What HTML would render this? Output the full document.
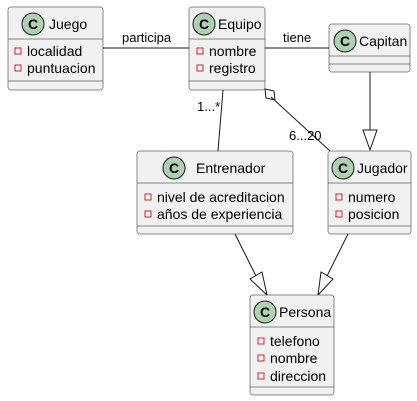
<!DOCTYPE html>
<html><head><meta charset="utf-8"><style>
html,body{margin:0;padding:0;background:#fff;}
svg{display:block;}
text{font-family:"Liberation Sans",sans-serif;fill:#000;}
.t{font-size:14px;}
.a{font-size:14px;}
.l{font-size:13px;}
.box{fill:#F1F1F1;stroke:#181818;stroke-width:0.5;}
.sep{stroke:#181818;stroke-width:0.5;}
.e{stroke:#181818;stroke-width:1;fill:none;}
.ci{fill:#ADD1B2;stroke:#181818;stroke-width:1;}
.c{font-size:14px;font-weight:bold;}
.sq{fill:none;stroke:#C82930;stroke-width:1;}
</style></head><body>
<svg width="417" height="401" viewBox="0 0 417 401" xmlns="http://www.w3.org/2000/svg">
<line class="e" x1="103" y1="48" x2="189" y2="48"/>
<text class="l" x="122" y="42">participa</text>
<line class="e" x1="265" y1="48" x2="329" y2="48"/>
<text class="l" x="283" y="42">tiene</text>
<line class="e" x1="223" y1="90" x2="218" y2="151"/>
<text class="l" x="197" y="111">1...*</text>
<polygon points="265,89 274,91 275,100 266,98" fill="#fff" stroke="#181818" stroke-width="1"/>
<line class="e" x1="271" y1="97" x2="330" y2="151"/>
<text class="l" x="289" y="140">6...20</text>
<line class="e" x1="370" y1="72" x2="370" y2="130"/>
<polygon points="363,130 377,130 370,150" fill="#fff" stroke="#181818" stroke-width="1"/>
<line class="e" x1="235" y1="234" x2="256" y2="276"/>
<polygon points="250,279 262,272 267,295" fill="#fff" stroke="#181818" stroke-width="1"/>
<line class="e" x1="348" y1="234" x2="327" y2="276"/>
<polygon points="321,272 333,279 318,295" fill="#fff" stroke="#181818" stroke-width="1"/>

<rect class="box" x="8" y="7" width="95" height="83" rx="2.5"/>
<line class="sep" x1="8" y1="39" x2="103" y2="39"/>
<line class="sep" x1="8" y1="81" x2="103" y2="81"/>
<circle class="ci" cx="33" cy="24" r="11"/><text class="c" x="28" y="29">C</text>
<text class="t" x="49" y="29">Juego</text>
<rect class="sq" x="15" y="48" width="6" height="6"/><text class="a" x="27" y="56">localidad</text>
<rect class="sq" x="15" y="65" width="6" height="6"/><text class="a" x="27" y="73">puntuacion</text>

<rect class="box" x="189" y="7" width="76" height="83" rx="2.5"/>
<line class="sep" x1="189" y1="39" x2="265" y2="39"/>
<line class="sep" x1="189" y1="81" x2="265" y2="81"/>
<circle class="ci" cx="204" cy="24" r="11"/><text class="c" x="199" y="29">C</text>
<text class="t" x="218" y="29">Equipo</text>
<rect class="sq" x="197" y="48" width="6" height="6"/><text class="a" x="209" y="56">nombre</text>
<rect class="sq" x="197" y="65" width="6" height="6"/><text class="a" x="209" y="73">registro</text>

<rect class="box" x="329" y="24" width="81" height="48" rx="2.5"/>
<line class="sep" x1="329" y1="56" x2="410" y2="56"/>
<line class="sep" x1="329" y1="64" x2="410" y2="64"/>
<circle class="ci" cx="345" cy="41" r="11"/><text class="c" x="340" y="46">C</text>
<text class="t" x="359" y="46">Capitan</text>

<rect class="box" x="137" y="151" width="156" height="83" rx="2.5"/>
<line class="sep" x1="137" y1="183" x2="293" y2="183"/>
<line class="sep" x1="137" y1="226" x2="293" y2="226"/>
<circle class="ci" cx="174" cy="168" r="11"/><text class="c" x="169" y="173">C</text>
<text class="t" x="196" y="173">Entrenador</text>
<rect class="sq" x="145" y="194" width="6" height="6"/><text class="a" x="157" y="202">nivel de acreditacion</text>
<rect class="sq" x="145" y="211" width="6" height="6"/><text class="a" x="157" y="219">años de experiencia</text>

<rect class="box" x="328" y="151" width="83" height="83" rx="2.5"/>
<line class="sep" x1="328" y1="183" x2="411" y2="183"/>
<line class="sep" x1="328" y1="226" x2="411" y2="226"/>
<circle class="ci" cx="343" cy="168" r="11"/><text class="c" x="338" y="173">C</text>
<text class="t" x="357" y="173">Jugador</text>
<rect class="sq" x="336" y="194" width="6" height="6"/><text class="a" x="348" y="202">numero</text>
<rect class="sq" x="336" y="211" width="6" height="6"/><text class="a" x="348" y="219">posicion</text>

<rect class="box" x="250" y="295" width="84" height="100" rx="2.5"/>
<line class="sep" x1="250" y1="327" x2="334" y2="327"/>
<line class="sep" x1="250" y1="387" x2="334" y2="387"/>
<circle class="ci" cx="265" cy="312" r="11"/><text class="c" x="260" y="317">C</text>
<text class="t" x="279" y="317">Persona</text>
<rect class="sq" x="258" y="338" width="6" height="6"/><text class="a" x="270" y="346">telefono</text>
<rect class="sq" x="258" y="355" width="6" height="6"/><text class="a" x="270" y="363">nombre</text>
<rect class="sq" x="258" y="373" width="6" height="6"/><text class="a" x="270" y="381">direccion</text>
</svg>
</body></html>
